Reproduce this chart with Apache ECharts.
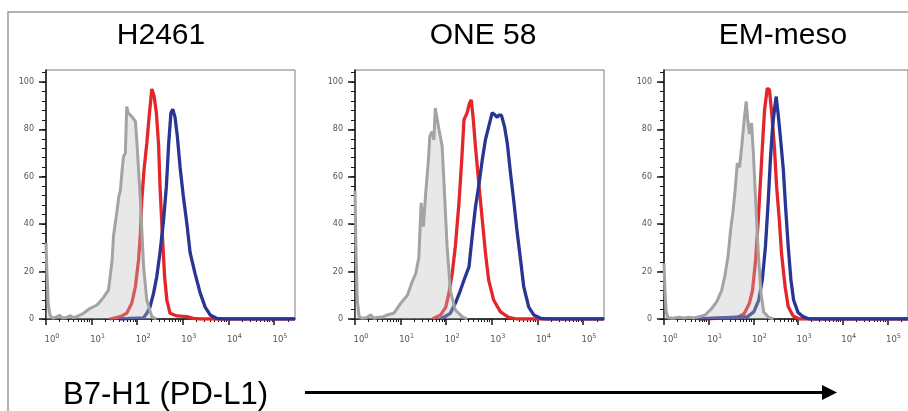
<!DOCTYPE html>
<html><head><meta charset="utf-8">
<script src="https://cdn.jsdelivr.net/npm/echarts@6/dist/echarts.min.js"></script>
<style>html,body{margin:0;padding:0;background:#fff}#c{width:908px;height:411px}</style>
</head><body><div id="c"></div>
<script>
// ---- data (x = log10 fluorescence intensity, y = % of max) ----
const panelTitles = ['H2461', 'ONE 58', 'EM-meso'];
const decadeTicks = [0, 1, 2, 3, 4, 5];
const percentTicks = [0, 20, 40, 60, 80, 100];
const axisTitle = 'B7-H1 (PD-L1)';

const h2461Gray = [[0,32],[0.02,20],[0.05,6],[0.09,1.5],[0.15,0.3],[0.22,0.8],[0.3,1.5],[0.36,0.4],[0.45,0.6],[0.52,1.4],[0.6,0.6],[0.7,1.2],[0.82,2.4],[0.97,4.5],[1.12,5.9],[1.26,9.1],[1.37,12.2],[1.42,20],[1.45,25],[1.48,35],[1.55,44.6],[1.6,52],[1.63,54],[1.67,63],[1.7,68.5],[1.74,70],[1.77,89.6],[1.8,87],[1.83,86.8],[1.88,85.4],[1.96,83.3],[1.99,75.5],[2.07,50],[2.14,22],[2.21,8],[2.32,1],[2.42,0]];
const h2461Red = [[1.4,0],[1.63,1],[1.77,2.4],[1.88,6.6],[1.96,13.6],[2.03,25],[2.07,36],[2.1,50],[2.15,63],[2.21,74],[2.26,85],[2.32,97],[2.37,94],[2.42,87],[2.47,73],[2.5,56],[2.55,36],[2.6,18],[2.65,8],[2.72,2.4],[2.87,1.3],[3.09,1],[3.23,0.3],[3.38,0],[5.46,0]];
const h2461Blue = [[1.6,0],[2.14,0.5],[2.21,2.4],[2.28,5],[2.36,11],[2.43,18],[2.5,28],[2.58,42],[2.64,56],[2.69,74],[2.74,87],[2.78,88.5],[2.83,85],[2.88,77],[2.94,64],[3.01,52],[3.09,40],[3.16,28],[3.27,19],[3.38,11],[3.49,5],[3.6,1.7],[3.74,0.3],[3.9,0],[5.46,0]];

const one58Gray = [[0,54],[0.02,30],[0.05,8],[0.09,1],[0.15,0.3],[0.25,0.5],[0.34,1.7],[0.42,0.3],[0.49,0.6],[0.6,0.8],[0.71,1.7],[0.85,2.4],[1.0,6.6],[1.15,10],[1.26,16],[1.33,19],[1.4,26],[1.45,49],[1.5,39],[1.55,53],[1.61,67],[1.64,77],[1.69,79],[1.73,75.5],[1.76,89],[1.8,89],[1.84,80],[1.91,73],[1.96,54],[2.02,30.5],[2.09,12],[2.2,3.8],[2.35,1],[2.46,0]];
const one58Red = [[1.7,0],[1.88,1.7],[1.99,5],[2.06,11],[2.13,19],[2.2,30.5],[2.28,49],[2.34,67],[2.39,84],[2.46,87],[2.51,91],[2.55,92.4],[2.59,85],[2.64,73],[2.72,56],[2.79,42],[2.86,28],[2.93,16.5],[3.04,8],[3.19,3],[3.37,0.7],[3.55,0],[5.46,0]];
const one58Blue = [[1.88,0],[2.09,2.4],[2.2,6.6],[2.31,12],[2.42,18],[2.5,22],[2.57,35],[2.64,47],[2.72,57],[2.79,67],[2.86,75.5],[2.93,81],[3.01,87],[3.07,86],[3.12,85],[3.15,86],[3.21,86],[3.28,81],[3.34,74],[3.41,61.5],[3.48,50],[3.55,37.5],[3.63,25],[3.7,13.6],[3.81,5],[3.92,1.7],[4.07,0.3],[4.2,0],[5.46,0]];

const emMesoGray = [[0,23.5],[0.02,12],[0.05,3],[0.09,0.5],[0.2,0.3],[0.34,0.7],[0.45,0.4],[0.56,0.7],[0.67,0.4],[0.78,1],[0.92,1.7],[1.07,4.5],[1.18,7.3],[1.29,12],[1.36,18],[1.43,26],[1.49,37.5],[1.54,44.6],[1.59,54],[1.64,65.7],[1.69,64],[1.74,73],[1.8,85],[1.84,91.7],[1.87,84.7],[1.91,78],[1.96,82.6],[2.0,70],[2.05,50],[2.11,28],[2.17,11],[2.23,3],[2.34,0.7],[2.45,0]];
const emMesoRed = [[0.78,0],[1.65,0.7],[1.8,2.4],[1.91,6.6],[1.98,12],[2.05,25],[2.11,42],[2.16,58.6],[2.21,75.5],[2.25,88],[2.31,97.3],[2.36,96.6],[2.41,86.8],[2.47,72.7],[2.52,55.8],[2.58,41.8],[2.63,27.7],[2.71,13.6],[2.78,5.2],[2.89,1.3],[3.03,0],[5.46,0]];
const emMesoBlue = [[0.78,0],[1.87,1],[2.01,3],[2.12,8],[2.2,16.5],[2.27,30.5],[2.33,49],[2.38,67],[2.43,81],[2.47,88],[2.51,93.8],[2.56,85.4],[2.61,75.5],[2.67,63],[2.72,47.4],[2.78,30.5],[2.84,16.5],[2.9,8],[3.0,2.7],[3.11,1],[3.25,0],[5.46,0]];

const panels = [
  {gray: h2461Gray, red: h2461Red, blue: h2461Blue},
  {gray: one58Gray, red: one58Red, blue: one58Blue},
  {gray: emMesoGray, red: emMesoRed, blue: emMesoBlue}
];

// ---- layout / style ----
const X_MIN = 0, X_MAX = 5.46, Y_MAX = 105;
const gridLefts = [46, 355, 664], GRID_TOP = 70, GRID_W = 249, GRID_H = 249;
const RED = '#e4262b', BLUE = '#283593', GRAY_LINE = '#a3a3a3', GRAY_FILL = 'rgba(190,190,190,0.5)';
const AX = '#151515', LBL = '#555';

const minorX = [];
for (let n = 0; n <= 5; n++) for (let k = 2; k <= 9; k++) {
  const v = n + Math.log10(k); if (v <= X_MAX) minorX.push(v);
}
const minorY = [];
for (let v = 0; v <= 104; v += 4) minorY.push(v);

const grids = [], xAxes = [], yAxes = [], series = [], graphics = [];
gridLefts.forEach((left, i) => {
  grids.push({left: left, top: GRID_TOP, width: GRID_W, height: GRID_H, show: true,
    borderColor: '#7a7a7a', borderWidth: 1, backgroundColor: 'transparent'});
  xAxes.push({gridIndex: i, type: 'value', min: X_MIN, max: X_MAX, interval: 1, position: 'bottom',
    axisLine: {show: true, onZero: false, lineStyle: {color: AX, width: 1.5}},
    axisTick: {show: true, length: 6, customValues: decadeTicks, lineStyle: {color: AX, width: 1.5}},
    axisLabel: {customValues: decadeTicks, margin: 14, padding: [0, 0, 0, 12],
      formatter: v => '{m|10}{s|' + v + '}',
      rich: {m: {fontSize: 8.5, color: LBL, fontFamily: 'DejaVu Sans'},
             s: {fontSize: 6.5, color: LBL, fontFamily: 'DejaVu Sans', padding: [0, 0, 7, 0]}}},
    splitLine: {show: false}});
  xAxes.push({gridIndex: i, type: 'value', min: X_MIN, max: X_MAX, position: 'bottom',
    axisLine: {show: false, onZero: false},
    axisTick: {show: true, length: 3, customValues: minorX, lineStyle: {color: AX, width: 1}},
    axisLabel: {show: false}, splitLine: {show: false}});
  yAxes.push({gridIndex: i, type: 'value', min: 0, max: Y_MAX, position: 'left',
    axisLine: {show: true, onZero: false, lineStyle: {color: AX, width: 1.5}},
    axisTick: {show: true, length: 7, customValues: percentTicks, lineStyle: {color: AX, width: 1.5}},
    axisLabel: {customValues: percentTicks, margin: 12, fontSize: 8, color: LBL, fontFamily: 'DejaVu Sans'},
    splitLine: {show: false}});
  yAxes.push({gridIndex: i, type: 'value', min: 0, max: Y_MAX, position: 'left',
    axisLine: {show: false, onZero: false},
    axisTick: {show: true, length: 4, customValues: minorY, lineStyle: {color: AX, width: 1}},
    axisLabel: {show: false}, splitLine: {show: false}});

  const p = panels[i];
  const base = {type: 'line', xAxisIndex: 2 * i, yAxisIndex: 2 * i, showSymbol: false, symbol: 'none',
    smooth: false, animation: false, silent: true};
  series.push(Object.assign({}, base, {data: p.red, lineStyle: {color: RED, width: 3.3}, z: 2}));
  series.push(Object.assign({}, base, {data: p.blue, lineStyle: {color: BLUE, width: 3.3}, z: 3}));
  series.push(Object.assign({}, base, {data: p.gray, lineStyle: {color: GRAY_LINE, width: 3},
    areaStyle: {color: GRAY_FILL, origin: 'start'}, z: 4}));

  graphics.push({type: 'text', x: [161, 483, 783][i], y: 35.5,
    style: {text: panelTitles[i], font: '30px "Liberation Sans", Arial, sans-serif', fill: '#000',
      textAlign: 'center', textVerticalAlign: 'middle'}});
});

// outer frame
graphics.push({type: 'polyline', shape: {points: [[8, 411], [8, 12], [908, 12]]},
  style: {stroke: '#9a9a9a', lineWidth: 1.5, fill: null}});
// bottom axis title and arrow
graphics.push({type: 'text', x: 63, y: 395.5,
  style: {text: axisTitle, font: '31px "Liberation Sans", Arial, sans-serif', fill: '#000',
    textAlign: 'left', textVerticalAlign: 'middle'}});
graphics.push({type: 'line', shape: {x1: 305, y1: 392.5, x2: 824, y2: 392.5},
  style: {stroke: '#000', lineWidth: 3}});
graphics.push({type: 'polygon', shape: {points: [[822, 385], [837, 392.5], [822, 400]]},
  style: {fill: '#000'}});

const chart = echarts.init(document.getElementById('c'), null, {renderer: 'canvas'});
chart.setOption({
  animation: false,
  backgroundColor: '#fff',
  grid: grids, xAxis: xAxes, yAxis: yAxes, series: series, graphic: graphics
});
</script></body></html>
